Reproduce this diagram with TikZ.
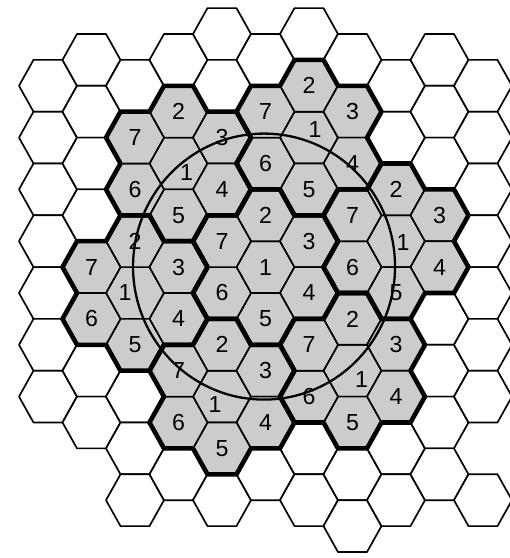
\documentclass[tikz,border=0pt]{standalone}
\usepackage{fontspec}
\setmainfont{Liberation Sans}
\begin{document}
\begin{tikzpicture}[x=0.58cm, y=-0.518cm, line join=round,
        cell/.style={line width=0.95pt},
        border/.style={line width=2.6pt},
        ring/.style={line width=1.3pt},
        num/.style={font=\fontsize{13.2}{15}\selectfont, inner sep=0pt}]
    \useasboundingbox (-1.655,-1.313) rectangle (15.931,20.232);

    % empty cells round the clusters
    \foreach \c/\r in {0/2, 0/4, 0/6, 0/8, 0/10, 0/12, 0/14,
                       1/1, 1/3, 1/5, 1/7, 1/13, 1/15,
                       2/2, 2/14, 2/16, 2/18, 3/1, 3/17, 4/0, 4/2, 4/18,
                       5/1, 5/17, 6/0, 6/16, 6/18, 7/1, 7/17, 7/19,
                       8/2, 8/4, 8/16, 8/18,
                       9/1, 9/3, 9/5, 9/11, 9/13, 9/15, 9/17,
                       10/2, 10/4, 10/6, 10/8, 10/10, 10/12, 10/14, 10/18}
        \draw[cell, fill=white, shift={(1.5*\c,\r)}] (1,0) -- (0.5,-1) -- (-0.5,-1) -- (-1,0) -- (-0.5,1) -- (0.5,1) -- cycle;

    % seven clusters of seven cells
    \foreach \cc/\rr in {6/4, 3/5, 8/8, 5/9, 2/10, 7/13, 4/14}
        \foreach \c/\r in {0/0, 0/-2, 1/-1, 1/1, 0/2, -1/1, -1/-1}
            \draw[cell, fill=gray!40, shift={(1.5*\cc+1.5*\c,\rr+\r)}] (1,0) -- (0.5,-1) -- (-0.5,-1) -- (-1,0) -- (-0.5,1) -- (0.5,1) -- cycle;

    \foreach \cc/\rr in {6/4, 3/5, 8/8, 5/9, 2/10, 7/13, 4/14}
        \draw[border, shift={(1.5*\cc,\rr)}] (1,-2) -- (0.5,-3) -- (-0.5,-3) -- (-1,-2) -- (-2,-2) -- (-2.5,-1) -- (-2,0) -- (-2.5,1) -- (-2,2)
            -- (-1,2) -- (-0.5,3) -- (0.5,3) -- (1,2) -- (2,2) -- (2.5,1) -- (2,0) -- (2.5,-1) -- (2,-2) -- cycle;

    \draw[ring] (7.45,8.98) ellipse [x radius=2.62cm, y radius=2.66cm];

    % channel numbers
    \foreach \cc/\rr/\dx/\dy in {6/4/6/-8, 3/5/8/9, 8/8/7/1, 5/9/0/0, 2/10/-10/0, 7/13/9/9, 4/14/-7/8} {
        \node[num] (ch\cc-\rr-1) at ({1.5*\cc+(\dx)/29},{\rr+(\dy)/25.9}) {1};
        \foreach \c/\r/\t in {0/-2/2, 1/-1/3, 1/1/4, 0/2/5, -1/1/6, -1/-1/7}
            \node[num] (ch\cc-\rr-\t) at (1.5*\cc+1.5*\c,\rr+\r) {\t};
    }
\end{tikzpicture}
\end{document}
